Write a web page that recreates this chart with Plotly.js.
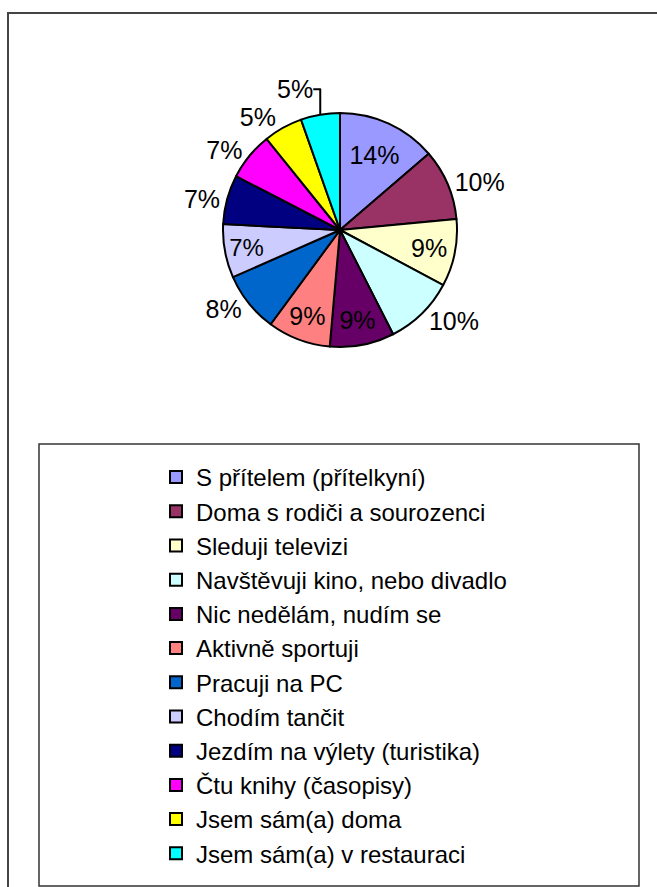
<!DOCTYPE html>
<html>
<head>
<meta charset="utf-8">
<script src="https://cdn.plot.ly/plotly-3.0.1.min.js"></script>
<style>
html,body{margin:0;padding:0;background:#fff;overflow:hidden;}
#chart{width:657px;height:887px;}
</style>
</head>
<body>
<div id="chart"></div>
<script>
const categories = [
  "S přítelem (přítelkyní)",
  "Doma s rodiči a sourozenci",
  "Sleduji televizi",
  "Navštěvuji kino, nebo divadlo",
  "Nic nedělám, nudím se",
  "Aktivně sportuji",
  "Pracuji na PC",
  "Chodím tančit",
  "Jezdím na výlety (turistika)",
  "Čtu knihy (časopisy)",
  "Jsem sám(a) doma",
  "Jsem sám(a) v restauraci"
];
const values = [13.7, 9.8, 9.3, 9.7, 8.9, 8.7, 8.3, 7.4, 6.8, 6.6, 5.4, 5.4];
const colors = ["#9999FF","#993366","#FFFFCC","#CCFFFF","#660066","#FF8080",
                "#0066CC","#CCCCFF","#000080","#FF00FF","#FFFF00","#00FFFF"];
const labelPositions = ["inside","outside","inside","outside","inside","inside",
                        "outside","inside","outside","outside","outside","outside"];

const W = 657, H = 887;
const px = x => x / W;
const py = y => 1 - y / H;
const FONT = "Liberation Sans, Arial, sans-serif";

const trace = {
  type: "pie",
  labels: categories,
  values: values,
  sort: false,
  direction: "clockwise",
  rotation: 0,
  marker: {colors: colors, line: {color: "#000", width: 2}},
  texttemplate: "%{percent:.0%}",
  textposition: labelPositions,
  insidetextorientation: "horizontal",
  textfont: {family: FONT, size: 25, color: "#000"},
  insidetextfont: {family: FONT, size: 25, color: "#000"},
  outsidetextfont: {family: FONT, size: 25, color: "#000"},
  hoverinfo: "none",
  domain: {x: [px(223), px(457)], y: [py(347), py(113)]}
};

const layout = {
  width: W, height: H,
  margin: {l: 0, r: 0, t: 0, b: 0},
  paper_bgcolor: "#fff",
  showlegend: true,
  legend: {
    x: px(156), y: py(455), xanchor: "left", yanchor: "top",
    font: {family: FONT, size: 24, color: "#000"},
    bgcolor: "rgba(0,0,0,0)", borderwidth: 0
  },
  shapes: [
    {type: "rect", xref: "paper", yref: "paper", x0: px(8), x1: px(700), y0: py(13), y1: py(930),
     line: {color: "#444", width: 2}, fillcolor: "rgba(0,0,0,0)", layer: "below"},
    {type: "rect", xref: "paper", yref: "paper", x0: px(39), x1: px(639), y0: py(444), y1: py(886),
     line: {color: "#333", width: 1.5}, fillcolor: "rgba(0,0,0,0)", layer: "below"}
  ],
  font: {family: FONT}
};

Plotly.newPlot("chart", [trace], layout, {staticPlot: true, displayModeBar: false});
</script>
</body>
</html>
